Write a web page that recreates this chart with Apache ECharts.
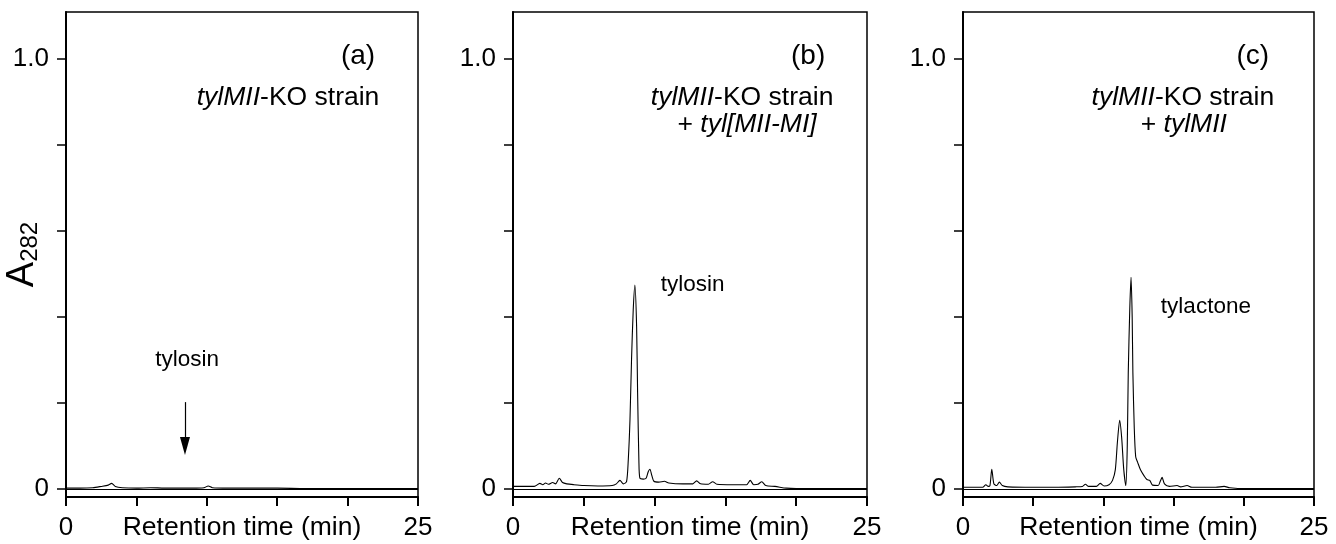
<!DOCTYPE html>
<html>
<head>
<meta charset="utf-8">
<script src="https://cdn.jsdelivr.net/npm/echarts@6/dist/echarts.min.js"></script>
<style>
html,body{margin:0;padding:0;background:#fff;}
#chart{width:1336px;height:544px;}
</style>
</head>
<body>
<div id="chart"></div>
<script>
// ---------- data ----------
const xTickValues = [0, 5, 10, 15, 20, 25];
const xLabelValues = [0, 25];
const yTickValues = [0, 0.2, 0.4, 0.6, 0.8, 1.0];
const yLabelValues = [0, 1.0];
const xAxisTitle = 'Retention time (min)';

// panel (a): tylMII-KO strain
const aTime  = [0, 1.0, 1.9, 2.5, 3.0, 3.24, 3.5, 4.0, 5.0, 6.0, 7.0, 8.0, 9.0, 9.8, 10.1, 10.4, 11.5, 13, 15, 17, 19, 21, 23, 25];
const aValue = [0.002, 0.002, 0.003, 0.006, 0.009, 0.013, 0.006, 0.003, 0.002, 0.003, 0.002, 0.002, 0.002, 0.003, 0.007, 0.003, 0.002, 0.002, 0.002, 0.001, 0.001, 0.001, 0.001, 0.001];

// panel (b): tylMII-KO strain + tyl[MII-MI]
const bTime  = [0, 1.5, 1.9, 2.1, 2.3, 2.5, 2.8, 3.0, 3.27, 3.5, 3.8, 4.3, 5.0, 6.0, 7.0, 7.3, 7.55, 7.8, 8.02, 8.14, 8.26, 8.37, 8.49, 8.61, 8.73, 8.80, 8.89, 8.96, 9.2, 9.4, 9.55, 9.67, 9.8, 9.95, 10.3, 10.7, 11.0, 12.0, 12.7, 12.97, 13.25, 13.8, 14.1, 14.4, 15.5, 16.5, 16.75, 17.0, 17.3, 17.57, 17.85, 18.5, 19.3, 20, 22, 25];
const bValue = [0.006, 0.006, 0.013, 0.010, 0.014, 0.011, 0.015, 0.012, 0.025, 0.015, 0.012, 0.010, 0.008, 0.007, 0.008, 0.012, 0.020, 0.012, 0.017, 0.067, 0.16, 0.30, 0.416, 0.474, 0.377, 0.223, 0.067, 0.025, 0.023, 0.025, 0.040, 0.046, 0.032, 0.018, 0.016, 0.018, 0.014, 0.012, 0.012, 0.019, 0.012, 0.011, 0.017, 0.011, 0.010, 0.010, 0.020, 0.010, 0.011, 0.017, 0.008, 0.006, 0.002, 0.001, 0.001, 0.001];

// panel (c): tylMII-KO strain + tylMII
const cTime  = [0, 1.4, 1.63, 1.8, 1.92, 2.05, 2.2, 2.4, 2.59, 2.8, 3.2, 5.0, 6.5, 8.0, 8.5, 8.72, 8.95, 9.5, 9.77, 10.05, 10.4, 10.65, 10.85, 11.0, 11.16, 11.3, 11.45, 11.6, 11.7, 11.77, 11.88, 11.97, 12.05, 12.1, 12.2, 12.3, 12.44, 12.65, 12.91, 13.1, 13.3, 13.5, 13.9, 14.05, 14.18, 14.35, 14.7, 15.25, 15.5, 15.96, 16.3, 18.0, 18.6, 19.0, 20.1, 25];
const cValue = [0.004, 0.004, 0.010, 0.006, 0.008, 0.046, 0.012, 0.008, 0.016, 0.008, 0.005, 0.004, 0.004, 0.005, 0.006, 0.011, 0.006, 0.006, 0.013, 0.007, 0.010, 0.020, 0.045, 0.11, 0.160, 0.12, 0.045, 0.008, 0.10, 0.269, 0.42, 0.492, 0.40, 0.27, 0.14, 0.075, 0.062, 0.044, 0.030, 0.022, 0.020, 0.009, 0.008, 0.018, 0.027, 0.012, 0.006, 0.008, 0.005, 0.008, 0.004, 0.004, 0.006, 0.003, 0.001, 0.001];

// arrow in panel (a) (data units: time, absorbance)
const arrowA = {from: [8.45, 0.202], to: [8.45, 0.10]};

// ---------- layout / style ----------
const FONT = "'Liberation Sans', Arial, Helvetica, sans-serif";
const grids = [
  {left: 66,  top: 12, width: 352, height: 485},
  {left: 513, top: 12, width: 354, height: 485},
  {left: 963, top: 12, width: 351, height: 485}
];
const Y_MIN = -0.0186, Y_MAX = 1.109;

function zip(t, v) { return t.map((x, i) => [x, v[i]]); }

const chart = echarts.init(document.getElementById('chart'), null, {renderer: 'canvas'});

const xAxes = grids.map((g, i) => ({
  type: 'value', gridIndex: i, min: 0, max: 25,
  axisLine: {show: true, onZero: false, lineStyle: {color: '#000', width: 2}},
  axisTick: {show: true, inside: false, length: 9, customValues: xTickValues, lineStyle: {color: '#000', width: 2}},
  axisLabel: {show: true, customValues: xLabelValues, margin: 18, color: '#000', fontSize: 26, fontFamily: FONT, lineHeight: 26},
  splitLine: {show: false},
  name: xAxisTitle, nameLocation: 'middle', nameGap: 18, nameMoveOverlap: false,
  nameTextStyle: {color: '#000', fontSize: 26.5, fontFamily: FONT, lineHeight: 26, verticalAlign: 'top'}
}));

const yAxes = grids.map((g, i) => ({
  type: 'value', gridIndex: i, min: Y_MIN, max: Y_MAX,
  axisLine: {show: true, onZero: false, lineStyle: {color: '#000', width: 2}},
  axisTick: {show: true, inside: false, length: 9, customValues: yTickValues, lineStyle: {color: '#000', width: 1.5}},
  axisLabel: {show: true, customValues: yLabelValues, margin: 17, color: '#000', fontSize: 26, fontFamily: FONT,
    formatter: v => (v === 0 ? '0' : v.toFixed(1))},
  splitLine: {show: false},
  name: i === 0 ? '{a|A}{s|282}' : '',
  nameLocation: 'middle', nameRotate: 90, nameGap: 24, nameMoveOverlap: false,
  nameTextStyle: {
    color: '#000', fontFamily: FONT,
    rich: {
      a: {fontSize: 38, lineHeight: 38, fontFamily: FONT, color: '#000', verticalAlign: 'top', padding: [0, 0, 5, 0]},
      s: {fontSize: 24, lineHeight: 24, fontFamily: FONT, color: '#000', verticalAlign: 'bottom'}
    }
  }
}));

function traceSeries(i, data, extra) {
  return Object.assign({
    type: 'line', xAxisIndex: i, yAxisIndex: i, data: data,
    showSymbol: false, symbol: 'none', smooth: 0.25, animation: false,
    lineStyle: {color: '#000', width: 1.1},
    markLine: {
      silent: true, symbol: 'none', animation: false,
      label: {show: false},
      lineStyle: {color: '#000', width: 1, type: 'solid'},
      data: [{yAxis: 0}]
    }
  }, extra || {});
}

const series = [
  traceSeries(0, zip(aTime, aValue)),
  traceSeries(1, zip(bTime, bValue)),
  traceSeries(2, zip(cTime, cValue)),
  {
    type: 'line', xAxisIndex: 0, yAxisIndex: 0, data: [], animation: false,
    markLine: {
      silent: true, animation: false, symbol: ['none', 'triangle'], symbolSize: [10, 18],
      label: {show: false},
      lineStyle: {color: '#000', width: 1.2, type: 'solid'},
      data: [[{coord: arrowA.from}, {coord: arrowA.to}]]
    }
  }
];

chart.setOption({
  backgroundColor: '#fff',
  animation: false,
  grid: grids.map(g => Object.assign({show: true, borderColor: '#000', borderWidth: 1.5, backgroundColor: 'transparent',
    containLabel: false, outerBoundsMode: 'none'}, g)),
  xAxis: xAxes,
  yAxis: yAxes,
  series: series
});

// ---------- annotations placed in data coordinates ----------
const it = {fontStyle: 'italic', fontFamily: FONT, fill: '#000'};
const nm = {fontStyle: 'normal', fontFamily: FONT, fill: '#000'};
const annotations = [
  {g: 0, at: [20.74, 1.005], text: '{n|(a)}', size: 28},
  {g: 0, at: [15.77, 0.909], text: '{i|tylMII}{n|-KO strain}', size: 26.5},
  {g: 0, at: [8.6, 0.300], text: '{n|tylosin}', size: 22.5},
  {g: 1, at: [20.84, 1.005], text: '{n|(b)}', size: 28},
  {g: 1, at: [16.18, 0.909], text: '{i|tylMII}{n|-KO strain}', size: 26.5},
  {g: 1, at: [16.53, 0.846], text: '{n|+ }{i|tyl[MII-MI]}', size: 26.5},
  {g: 1, at: [12.68, 0.474], text: '{n|tylosin}', size: 22.5},
  {g: 2, at: [20.64, 1.005], text: '{n|(c)}', size: 28},
  {g: 2, at: [15.66, 0.909], text: '{i|tylMII}{n|-KO strain}', size: 26.5},
  {g: 2, at: [15.73, 0.846], text: '{n|+ }{i|tylMII}', size: 26.5},
  {g: 2, at: [17.30, 0.423], text: '{n|tylactone}', size: 22.5}
];

const graphics = annotations.map(a => {
  const p = chart.convertToPixel({gridIndex: a.g}, a.at);
  const fs = a.size;
  return {
    type: 'text', x: p[0], y: p[1], silent: true,
    style: {
      text: a.text, align: 'center', verticalAlign: 'middle',
      fontSize: fs, fontFamily: FONT, fill: '#000',
      rich: {
        i: Object.assign({}, it, {fontSize: fs}),
        n: Object.assign({}, nm, {fontSize: fs})
      }
    }
  };
});
chart.setOption({graphic: graphics});
</script>
</body>
</html>
